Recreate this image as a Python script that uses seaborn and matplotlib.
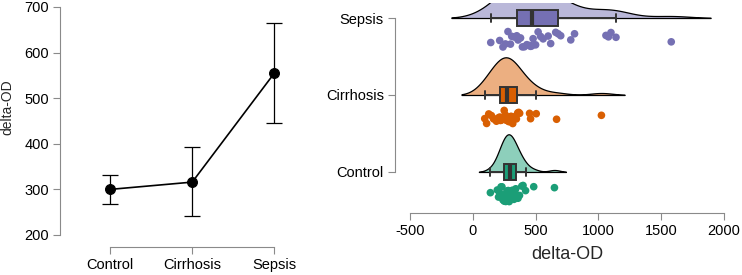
import numpy as np
import pandas as pd
import seaborn as sns
import matplotlib.pyplot as plt

groups = ["Control", "Cirrhosis", "Sepsis"]

# left panel: group means with 95% CI
means = [300, 316, 555]
ci_low = [268, 241, 446]
ci_high = [332, 392, 664]

# right panel: individual delta-OD values per group
control = [140, 195, 205, 215, 225, 232, 240, 245, 250, 255, 262, 268, 272, 278, 282, 286, 290,
           295, 300, 305, 310, 315, 320, 328, 335, 342, 350, 360, 372, 390, 400, 420, 485, 650]
cirrhosis = [95, 110, 127, 148, 165, 188, 200, 214, 220, 228, 238, 250, 260, 267, 272, 278, 285,
             294, 305, 318, 330, 347, 357, 365, 373, 452, 460, 505, 667, 1024]
sepsis = [143, 214, 240, 260, 280, 300, 310, 330, 350, 360, 380, 395, 410, 430, 450, 460, 470,
          480, 500, 520, 540, 560, 600, 620, 660, 680, 700, 780, 810, 1060, 1080, 1100, 1140, 1580]

xticks = [-500, 0, 500, 1000, 1500, 2000]

sns.set_style("ticks")
plt.rcParams["font.family"] = ["Liberation Sans", "DejaVu Sans"]
plt.rcParams["axes.unicode_minus"] = False
np.random.seed(3)

base = {"Control": "#1B9E77", "Cirrhosis": "#D95F02", "Sepsis": "#7570B3"}
# dummy levels so every real group lands on the same (upper) side of a split violin
hue_order = ["_a", "Control", "_b", "Cirrhosis", "_c", "Sepsis"]
pal = {k: base.get(k, "white") for k in hue_order}
light = {k: tuple(0.5 + 0.5 * np.array(plt.matplotlib.colors.to_rgb(v))) for k, v in pal.items()}

vw = 0.49  # half-violin height in category units

df = pd.DataFrame({
    "value": control + cirrhosis + sepsis,
    "group": ["Control"] * len(control) + ["Cirrhosis"] * len(cirrhosis) + ["Sepsis"] * len(sepsis),
})
df["pos"] = df["group"].map({g: i for i, g in enumerate(groups)}).astype(float)
df["cloud"] = df["pos"] + vw / 2
df["rain"] = df["pos"] - 0.28

fig = plt.figure(figsize=(7.42, 2.75), dpi=100)
ax1 = fig.add_axes([60 / 742, 40 / 275, 239 / 742, 228 / 275])
ax2 = fig.add_axes([410 / 742, 67 / 275, 314 / 742, 205 / 275])

gray = "#8a8a8a"

# ---- left: descriptives plot
sns.pointplot(x=groups, y=means, color="black", markers="o", markersize=7, linewidth=1.2,
              errorbar=None, ax=ax1)
ax1.errorbar(range(3), means, yerr=[np.subtract(means, ci_low), np.subtract(ci_high, means)],
             fmt="none", ecolor="black", elinewidth=0.9, capsize=6, capthick=0.9)
ax1.set_xlim(-0.61, 2.3)
ax1.set_ylim(200, 700)
ax1.set_yticks(range(200, 701, 100))
ax1.set_ylabel("delta-OD", fontsize=10)
ax1.yaxis.set_label_coords(-0.19, 0.56)
ax1.set_xlabel("")
for s in ["top", "right"]:
    ax1.spines[s].set_visible(False)
ax1.spines["bottom"].set_position(("outward", 8.6))
ax1.spines["bottom"].set_bounds(0, 2)
ax1.spines["left"].set_bounds(200, 700)
for s in ["bottom", "left"]:
    ax1.spines[s].set_color(gray)
ax1.tick_params(colors=gray, labelcolor="black", labelsize=10.5, length=5, pad=3)

# ---- right: raincloud plot
sns.violinplot(data=df, x="value", y="cloud", hue="group", hue_order=hue_order, palette=light,
               orient="h", native_scale=True, split=True, inner=None, density_norm="area",
               width=vw, linecolor="black", linewidth=0.9, saturation=1, legend=False, ax=ax2)
sns.boxplot(data=df, x="value", y="pos", hue="group", hue_order=hue_order, palette=pal,
            orient="h", native_scale=True, width=0.21, showfliers=False, linecolor="#333333",
            linewidth=1.4, saturation=1, legend=False,
            medianprops={"linewidth": 3, "color": "#333333"}, ax=ax2)
sns.stripplot(data=df, x="value", y="rain", hue="group", hue_order=hue_order, palette=pal,
              orient="h", native_scale=True, jitter=0.11, size=5.5, linewidth=0, legend=False,
              ax=ax2)

ax2.set_xlim(-500, 2000)
ax2.set_ylim(-0.468, 2.195)
ax2.set_xticks(xticks)
ax2.set_xticklabels([str(t) for t in xticks])
ax2.set_yticks([0, 1, 2])
ax2.set_yticklabels(groups)
ax2.set_ylabel("")
ax2.set_xlabel("delta-OD", fontsize=13, labelpad=6)
for s in ["top", "right"]:
    ax2.spines[s].set_visible(False)
ax2.spines["bottom"].set_position(("outward", 3.6))
ax2.spines["bottom"].set_bounds(-500, 2000)
ax2.spines["left"].set_position(("outward", 10.8))
ax2.spines["left"].set_bounds(0, 2)
for s in ["bottom", "left"]:
    ax2.spines[s].set_color(gray)
ax2.tick_params(colors=gray, labelcolor="black", labelsize=10.5, length=5, pad=3)

fig.savefig("out.png", dpi=100)
